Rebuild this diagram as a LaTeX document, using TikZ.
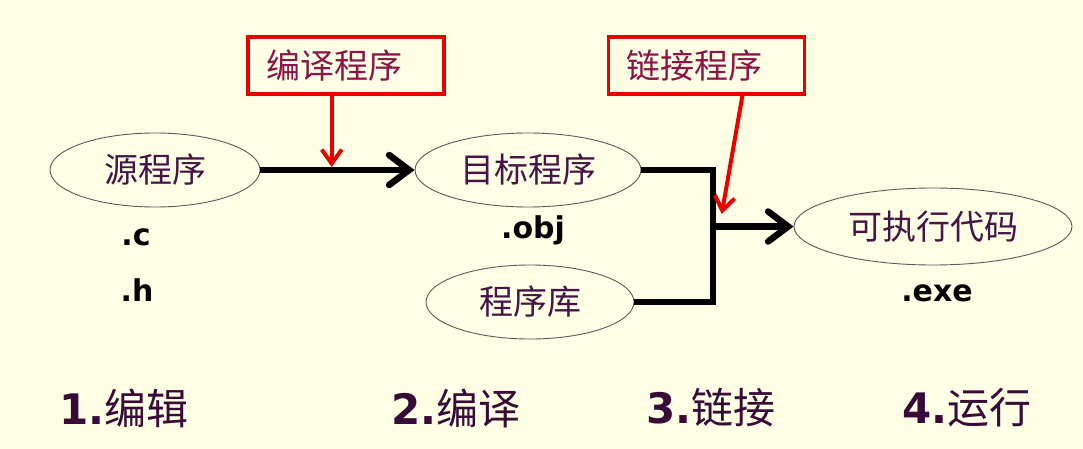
\documentclass[tikz,border=0pt]{standalone}
\usepackage{fontspec}
\newfontfamily\cjk{Noto Sans CJK SC}
\newfontfamily\dv{DejaVu Sans}
\usetikzlibrary{shapes.geometric,arrows.meta}
\definecolor{bgc}{RGB}{255,255,229}
\definecolor{etext}{RGB}{70,20,70}
\definecolor{btext}{RGB}{140,20,70}
\definecolor{ltext}{RGB}{55,10,55}
\definecolor{redc}{RGB}{235,0,0}
\definecolor{edge}{RGB}{90,90,90}
\tikzset{
  oval/.style={ellipse, draw=edge, line width=0.9pt, inner sep=0pt, text=etext,
    font=\cjk\fontsize{34}{40}\selectfont},
  redbox/.style={draw=redc, line width=3.6pt, rectangle, minimum width=196pt, minimum height=57pt,
    inner xsep=18pt, inner ysep=0pt, text width=160pt, align=left, text=btext,
    font=\cjk\fontsize{34}{40}\selectfont},
  ext/.style={font=\dv\bfseries\fontsize{30}{34}\selectfont, text=black, inner sep=0pt},
  stage/.style={text=ltext, inner sep=0pt},
  bigarrow/.style={line width=6.5pt, -{Straight Barb[length=20pt,width=30pt,line cap=round]}},
  redarrow/.style={draw=redc, line width=4pt, -{Straight Barb[length=14pt,width=20pt]}},
  joiner/.style={line width=6.5pt}
}
\newcommand{\stg}[2]{{\dv\bfseries\fontsize{42}{48}\selectfont #1}{\cjk\fontsize{42}{48}\selectfont #2}}
\begin{document}
\begin{tikzpicture}[x=1pt,y=-1pt]
\useasboundingbox (0,0) rectangle (1083,449);
\fill[bgc] (0,0) rectangle (1083,449);

% ellipses
\node[oval, minimum width=210pt, minimum height=74pt] (src) at (155,170) {源程序};
\node[oval, minimum width=226pt, minimum height=74pt] (tgt) at (528,170) {目标程序};
\node[oval, minimum width=208pt, minimum height=74pt] (lib) at (530,302) {程序库};
\node[oval, minimum width=278pt, minimum height=77pt] (exe) at (933,226.5) {可执行代码};

% extensions
\node[ext] (c) at (136,237) {.c};
\node[ext] (h) at (137,290) {.h};
\node[ext] (obj) at (533,230) {.obj};
\node[ext] (exeext) at (937,293) {.exe};

% red boxes
\node[redbox] (comp) at (346,65.5) {编译程序};
\node[redbox] (link) at (706.5,65.5) {链接程序};

% junction coordinates
\coordinate (j1) at (713,170);
\coordinate (j2) at (713,302);
\coordinate (jm) at (713,226.5);
\coordinate (hit1) at (331.7,167);
\coordinate (top1) at (331.7,94);
\coordinate (top2) at (742.7,94);
\coordinate (hit2) at (721.7,214);

% black connectors
\draw[bigarrow] (src.east) -- (tgt.west);
\draw[joiner, line join=miter] (tgt.east) -- (j1) -- (j2) -- (lib.east);
\draw[bigarrow] (jm) -- (exe.west);

% red arrows
\draw[redarrow] (top1) -- (hit1);
\draw[redarrow] (top2) -- (hit2);

% stage labels
\node[stage] (s1) at (124,408) {\stg{1.}{编辑}};
\node[stage] (s2) at (456,408) {\stg{2.}{编译}};
\node[stage] (s3) at (711,408) {\stg{3.}{链接}};
\node[stage] (s4) at (967,408) {\stg{4.}{运行}};
\end{tikzpicture}
\end{document}
